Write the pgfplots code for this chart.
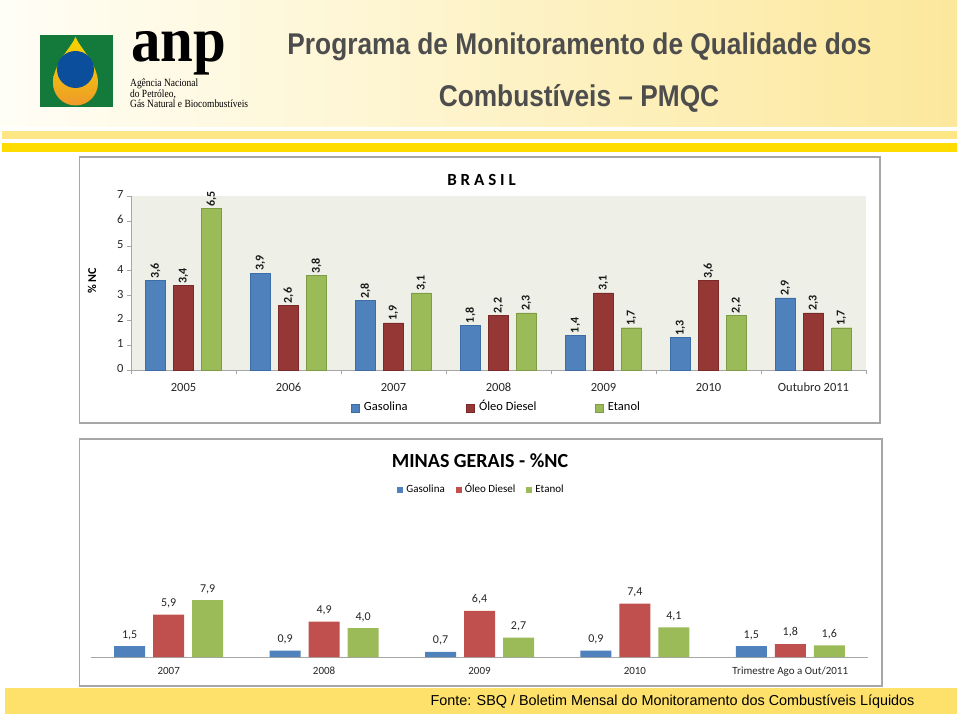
\documentclass[border=0pt]{standalone}
\usepackage{pgfplots}
\pgfplotsset{compat=1.18}
\usepackage{fontspec}
\setmainfont{Carlito}
\newfontfamily\arialf{Liberation Sans}
\newfontfamily\lserif{Liberation Serif}
\definecolor{gasB}{HTML}{4F81BD}
\definecolor{gasBd}{HTML}{3D6CA6}
\definecolor{dieB}{HTML}{953735}
\definecolor{dieBd}{HTML}{7A2A28}
\definecolor{etaB}{HTML}{9BBB59}
\definecolor{etaBd}{HTML}{7E9C45}
\definecolor{dieM}{HTML}{C0504D}
\definecolor{plotbg}{HTML}{EEF0E7}
\definecolor{titlegray}{HTML}{4D4D4D}
\definecolor{hdrL}{HTML}{FFFEF6}
\definecolor{hdrR}{HTML}{FCE89C}
\definecolor{stripeA}{HTML}{FCE784}
\definecolor{stripeB}{HTML}{FFDC00}
\definecolor{footer}{HTML}{FDE16B}
\definecolor{logogreen}{HTML}{137A3C}
\definecolor{logoblue}{HTML}{0B4E9C}
\definecolor{dropY}{HTML}{F6D300}
\definecolor{dropO}{HTML}{EE9A2A}
\definecolor{panel}{HTML}{A6A6A6}
\begin{document}
\begin{tikzpicture}[x=1pt,y=1pt]
\useasboundingbox (0,0) rectangle (960,716);
\fill[white] (0,0) rectangle (960,716);
% header
\shade[left color=hdrL, right color=hdrR] (0,589) rectangle (957,716);
\fill[stripeA] (2,577) rectangle (957,585);
\fill[stripeB] (2,564) rectangle (957,573);
% logo
\fill[logogreen] (40,609) rectangle (113,681);
\shade[top color=dropY, bottom color=dropO, middle color=dropY!60!dropO]
  (75.5,679) .. controls (71,668) and (53,652) .. (53,633)
  arc[start angle=180,end angle=360,radius=22.5]
  .. controls (98,652) and (80,668) .. (75.5,679) -- cycle;
\fill[logoblue] (75.5,646.5) circle (18.5);
\node[anchor=base west, inner sep=0, font=\lserif\bfseries\fontsize{64}{64}\selectfont, xscale=0.92] at (131,654) {anp};
\node[anchor=north west, inner sep=0, align=left, font=\lserif\fontsize{11}{10}\selectfont, xscale=0.86] at (130,637.5) {Agência Nacional\\do Petróleo,\\Gás Natural e Biocombustíveis};
% title
\node[anchor=base, inner sep=0, font=\arialf\bfseries\fontsize{30}{30}\selectfont, text=titlegray, xscale=0.876] at (579.5,661) {Programa de Monitoramento de Qualidade dos};
\node[anchor=base, inner sep=0, font=\arialf\bfseries\fontsize{30}{30}\selectfont, text=titlegray, xscale=0.876] at (579,609) {Combustíveis – PMQC};
% footer
\fill[footer] (5,2) rectangle (957,28);
\node[anchor=base, inner sep=0, font=\arialf\fontsize{14.4}{14.4}\selectfont] at (672.5,10.5) {Fonte: SBQ / Boletim Mensal do Monitoramento dos Combustíveis Líquidos};
% Brasil panel
\draw[panel, line width=1.2pt] (79.5,293) rectangle (880,559);
\node[anchor=base, inner sep=0, font=\bfseries\fontsize{17}{17}\selectfont] at (481.5,530) {B R A S I L};
\node[rotate=90, inner sep=0, font=\bfseries\fontsize{12}{12}\selectfont] at (92,435) {\% NC};
\begin{axis}[
  at={(131pt,346pt)}, anchor=south west,
  scale only axis, width=735pt, height=174pt,
  ybar=8pt, bar width=20pt,
  xmin=-0.5, xmax=6.5, ymin=0, ymax=7,
  axis background/.style={fill=plotbg},
  axis x line*=bottom, axis y line*=left,
  axis line style={draw=gray!70, -},
  tick style={draw=gray!70},
  tick align=outside, major tick length=4pt,
  xtick={-0.5,0.5,...,6.5},
  x tick label as interval,
  xticklabels={2005,2006,2007,2008,2009,2010,Outubro 2011},
  ytick={0,1,...,7},
  typeset ticklabels with strut,
  /pgf/number format/assume math mode=true,
  ticklabel style={font=\fontsize{12.5}{13}\selectfont, text=black!85},
  xticklabel style={yshift=-5pt},
  nodes near coords={\pgfmathprintnumber[use comma,fixed,fixed zerofill,precision=1]{\pgfplotspointmeta}},
  every node near coord/.append style={rotate=90, anchor=west, font=\bfseries\fontsize{12}{12}\selectfont, text=black!90, inner sep=2pt, xshift=0pt},
  legend image code/.code={\fill[#1] (0pt,-4pt) rectangle (8pt,4pt);},
  legend style={at={(0.497,-0.218)}, anchor=center, draw=none, fill=none, legend columns=-1,
    font=\fontsize{12.5}{13}\selectfont, nodes={text height=9pt, text depth=3pt},
    /tikz/every even column/.append style={column sep=56pt},
    /tikz/every odd column/.append style={column sep=3pt}},
]
\addplot[fill=gasB, draw=gasBd] coordinates {(0,3.6) (1,3.9) (2,2.8) (3,1.8) (4,1.4) (5,1.3) (6,2.9)};
\addplot[fill=dieB, draw=dieBd] coordinates {(0,3.4) (1,2.6) (2,1.9) (3,2.2) (4,3.1) (5,3.6) (6,2.3)};
\addplot[fill=etaB, draw=etaBd] coordinates {(0,6.5) (1,3.8) (2,3.1) (3,2.3) (4,1.7) (5,2.2) (6,1.7)};
\legend{Gasolina, Óleo Diesel, Etanol}
\end{axis}
% Minas Gerais panel
\draw[panel, line width=1.2pt] (79.5,30) rectangle (882,277);
\node[anchor=base, inner sep=0, font=\bfseries\fontsize{20}{20}\selectfont] at (480,249) {MINAS GERAIS - \%NC};
\begin{axis}[
  at={(91pt,59pt)}, anchor=south west,
  scale only axis, width=777pt, height=144pt,
  ybar=8pt, bar width=31pt,
  xmin=-0.5, xmax=4.5, ymin=0, ymax=20,
  axis x line*=bottom, axis y line=none,
  axis line style={draw=gray!70, -},
  xtick={0,...,4}, major tick length=0pt,
  xticklabels={2007,2008,2009,2010,Trimestre Ago a Out/2011},
  typeset ticklabels with strut,
  /pgf/number format/assume math mode=true,
  ticklabel style={font=\fontsize{11}{12}\selectfont, text=black!85},
  xticklabel style={yshift=-6pt},
  nodes near coords={\pgfmathprintnumber[use comma,fixed,fixed zerofill,precision=1]{\pgfplotspointmeta}},
  every node near coord/.append style={anchor=south, font=\fontsize{12}{12}\selectfont, text=black!85, yshift=3pt},
  legend image code/.code={\fill[#1] (0pt,-3pt) rectangle (6pt,3pt);},
  legend style={at={(0.5026,1.16)}, anchor=center, draw=none, fill=none, legend columns=-1,
    font=\fontsize{11}{12}\selectfont, nodes={text height=8pt, text depth=2.5pt},
    /tikz/every even column/.append style={column sep=9pt},
    /tikz/every odd column/.append style={column sep=1pt}},
]
\addplot[fill=gasB, draw=none] coordinates {(0,1.5) (1,0.9) (2,0.7) (3,0.9) (4,1.5)};
\addplot[fill=dieM, draw=none] coordinates {(0,5.9) (1,4.9) (2,6.4) (3,7.4) (4,1.8)};
\addplot[fill=etaB, draw=none] coordinates {(0,7.9) (1,4.0) (2,2.7) (3,4.1) (4,1.6)};
\legend{Gasolina, Óleo Diesel, Etanol}
\end{axis}
\end{tikzpicture}
\end{document}
